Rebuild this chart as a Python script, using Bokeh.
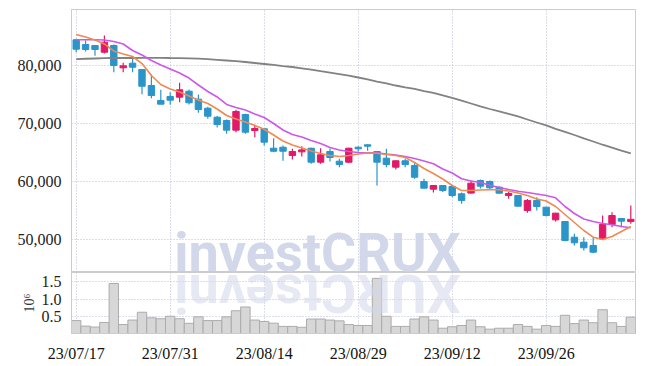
import math
from bokeh.plotting import figure
from bokeh.layouts import column
from bokeh.models import (ColumnDataSource, Range1d, FixedTicker, NumeralTickFormatter, Label)
from bokeh.embed import file_html
from bokeh.resources import INLINE

dates = ["23/07/17", "23/07/18", "23/07/19", "23/07/20", "23/07/21",
         "23/07/24", "23/07/25", "23/07/26", "23/07/27", "23/07/28",
         "23/07/31", "23/08/01", "23/08/02", "23/08/03", "23/08/04",
         "23/08/07", "23/08/08", "23/08/09", "23/08/10", "23/08/11",
         "23/08/14", "23/08/16", "23/08/17", "23/08/18",
         "23/08/21", "23/08/22", "23/08/23", "23/08/24", "23/08/25",
         "23/08/28", "23/08/29", "23/08/30", "23/08/31", "23/09/01",
         "23/09/04", "23/09/05", "23/09/06", "23/09/07", "23/09/08",
         "23/09/11", "23/09/12", "23/09/13", "23/09/14", "23/09/15",
         "23/09/18", "23/09/19", "23/09/20", "23/09/21", "23/09/22",
         "23/09/25", "23/09/26", "23/09/27",
         "23/10/04", "23/10/05", "23/10/06",
         "23/10/10", "23/10/11", "23/10/12", "23/10/13", "23/10/16"]

opens = [84430, 83620, 83450, 82290, 83450, 79600, 80400, 79310, 76550, 73970,
         74660, 74540, 75570, 74190, 72640, 71090, 70520, 68850, 71550, 68790,
         69090, 65740, 65910, 64480, 65110, 65740, 63330, 65170, 63500, 63330,
         65910, 66330, 65170, 64020, 62470, 63570, 62760, 60000, 58680, 59310,
         59140, 57880, 58000, 60170, 60000, 59020, 57580, 57590, 55000, 56730,
         55580, 53390, 53100, 50400, 49540, 48970, 50120, 52590, 53620, 53100]
highs = [84600, 84310, 83500, 85170, 83600, 80460, 81330, 79400, 78450, 75810,
         75400, 77020, 75860, 75000, 72900, 71300, 70700, 72360, 71700, 69780,
         69200, 67470, 66210, 65640, 66090, 65800, 65740, 65690, 63910, 65800,
         66090, 66400, 65200, 65640, 63600, 63910, 63160, 60460, 59400, 59400,
         59300, 58100, 60170, 60340, 60170, 59200, 58170, 57600, 57000, 57300,
         55600, 54600, 53200, 50980, 50400, 50400, 54140, 54710, 53650, 55860]
lows = [82300, 82410, 81700, 82070, 78850, 78850, 78850, 75050, 74370, 73300,
        73230, 73670, 73280, 71840, 70800, 69300, 68230, 68500, 68230, 67640,
        66210, 65050, 63570, 63790, 64310, 63050, 63050, 63450, 62470, 63200,
        65170, 65290, 59310, 62470, 62070, 62470, 60460, 58800, 58110, 58170,
        57300, 56160, 57940, 58800, 58680, 57900, 57010, 55700, 54600, 55000,
        53970, 53100, 49700, 48970, 48110, 47640, 50100, 52120, 52120, 52700]
closes = [82810, 82760, 82760, 84020, 80000, 79940, 79700, 76430, 74830, 73330,
          74020, 75810, 73570, 72410, 71260, 69830, 68850, 72070, 68500, 69130,
          66780, 65220, 65220, 65170, 65450, 63330, 64600, 64140, 62930, 65740,
          65640, 66090, 63330, 62930, 63570, 62930, 60740, 58850, 59310, 58450,
          57590, 56730, 59710, 59190, 58910, 57990, 57930, 55750, 56730, 55690,
          54140, 54540, 49830, 49430, 48570, 47810, 52590, 54140, 53160, 53480]

ma_short = [85350, 84910, 84400, 83710, 82500, 81980, 81550, 80340, 78280, 76720,
            75950, 75430, 74740, 74050, 73450, 72500, 71380, 70780, 70260, 69660,
            69000, 68020, 66980, 66290, 65780, 65260, 64830, 64480, 64310, 64480,
            64740, 64910, 64880, 64660, 64480, 64140, 63280, 62240, 61380, 60430,
            59310, 58450, 58450, 58530, 58570, 58570, 58360, 58020, 57590, 56980,
            56640, 55690, 54310, 52930, 51550, 50400, 50000, 50520, 51380, 52240]
ma_mid = [84430, 84430, 84430, 84400, 84140, 83710, 82590, 81810, 80860, 80090,
          79400, 78710, 77840, 76640, 75520, 74570, 73280, 72760, 72330, 71640,
          71040, 70000, 68880, 68100, 67670, 67070, 66550, 65860, 65430, 65170,
          65000, 64950, 64950, 64740, 64570, 64310, 63970, 63540, 63050, 62160,
          61470, 60470, 60090, 59830, 59370, 58970, 58620, 58330, 58100, 57850,
          57590, 57190, 55690, 54480, 53530, 53100, 52760, 52530, 52240, 52020]
ma_long = [81090, 81160, 81210, 81260, 81290, 81290, 81290, 81310, 81310, 81310,
           81290, 81280, 81240, 81170, 81100, 80980, 80860, 80740, 80600, 80430,
           80260, 80090, 79910, 79740, 79520, 79280, 79030, 78790, 78530, 78240,
           77930, 77590, 77240, 76900, 76550, 76240, 75950, 75600, 75260, 74830,
           74400, 73930, 73450, 72970, 72500, 72070, 71640, 71210, 70690, 70170,
           69660, 69090, 68570, 68020, 67450, 66900, 66340, 65830, 65310, 64830]

volume_m = [0.375, 0.214, 0.188, 0.32, 1.45, 0.26, 0.39, 0.617, 0.456, 0.429,
            0.50, 0.429, 0.295, 0.483, 0.375, 0.375, 0.483, 0.66, 0.77, 0.39,
            0.35, 0.30, 0.206, 0.206, 0.18, 0.42, 0.42, 0.39, 0.367, 0.26,
            0.233, 0.233, 1.60, 0.50, 0.206, 0.206, 0.42, 0.483, 0.39, 0.153,
            0.196, 0.233, 0.39, 0.196, 0.126, 0.153, 0.153, 0.26, 0.206, 0.126,
            0.233, 0.206, 0.528, 0.287, 0.39, 0.313, 0.69, 0.313, 0.206, 0.474]

price_ticks = [50000, 60000, 70000, 80000]
volume_ticks = [0.5, 1.0, 1.5]
date_tick_idx = [0, 10, 20, 30, 40, 50]

UP = "#e01a66"
DOWN = "#2b95c9"
GRID = "#b8bcd6"
FRAME = "#cccccc"
LABEL_FONT = "Liberation Sans Narrow"
WM = "#d2d7ea"

n = len(dates)
xs = list(range(n))
src = ColumnDataSource(dict(
    x=xs, open=opens, high=highs, low=lows, close=closes,
    top=[max(o, c) for o, c in zip(opens, closes)],
    bottom=[min(o, c) for o, c in zip(opens, closes)],
    color=[UP if c >= o else DOWN for o, c in zip(opens, closes)],
    ma_s=ma_short, ma_m=ma_mid, ma_l=ma_long, vol=volume_m,
))

xr = Range1d(-0.5, n - 0.5)

p = figure(width=638, height=272, x_range=xr, y_range=Range1d(44310, 89655),
           output_backend="svg", toolbar_location=None, x_axis_location=None,
           min_border_left=71, min_border_right=3, min_border_top=9, min_border_bottom=0)
p.outline_line_color = FRAME
p.background_fill_color = "white"

for g, t in ((p.xgrid, date_tick_idx), (p.ygrid, price_ticks)):
    g.ticker = FixedTicker(ticks=t)
    g.grid_line_color = GRID
    g.grid_line_dash = "1 2"
    g.grid_line_width = 1

ax = p.yaxis[0]
ax.ticker = FixedTicker(ticks=price_ticks)
ax.formatter = NumeralTickFormatter(format="0,0")
ax.axis_line_color = FRAME
ax.major_tick_line_color = None
ax.minor_tick_line_color = None
ax.major_label_standoff = 4
ax.major_label_text_font = LABEL_FONT
ax.major_label_text_font_size = "16px"
ax.major_label_text_color = "#222222"

wm = Label(x=10.43, y=47750, text="investCRUX", text_font="Roboto", text_font_style="bold",
           text_font_size="54px", text_color=WM, text_align="left", text_baseline="alphabetic")
p.add_layout(wm)

p.segment(x0="x", y0="low", x1="x", y1="high", color="color", line_width=1.2, source=src)
p.vbar(x="x", width=0.68, top="top", bottom="bottom", fill_color="color", line_color="color",
       line_width=1, source=src)
p.line("x", "ma_l", source=src, line_color="#828282", line_width=1.8)
p.line("x", "ma_m", source=src, line_color="#cc58ea", line_width=1.6)
p.line("x", "ma_s", source=src, line_color="#ee8a52", line_width=1.6)

v = figure(width=638, height=92, x_range=xr, y_range=Range1d(0, 1.77),
           output_backend="svg", toolbar_location=None,
           min_border_left=71, min_border_right=3, min_border_top=0, min_border_bottom=26)
v.outline_line_color = FRAME
for g, t in ((v.xgrid, date_tick_idx), (v.ygrid, volume_ticks)):
    g.ticker = FixedTicker(ticks=t)
    g.grid_line_color = GRID
    g.grid_line_dash = "1 2"
    g.grid_line_width = 1

v.vbar(x="x", width=1.0, top="vol", bottom=0, fill_color="#d7d7d7", line_color="#acacac",
       line_width=1, source=src)

refl = Label(x=10.43, y=1.15, text="investCRUX"[::-1], text_font="Roboto", text_font_style="bold",
             text_font_size="54px", text_color=WM, text_alpha=0.55, text_align="right",
             text_baseline="alphabetic", angle=math.pi)
v.add_layout(refl)

vy = v.yaxis[0]
vy.ticker = FixedTicker(ticks=volume_ticks)
vy.formatter = NumeralTickFormatter(format="0.0")
vy.axis_line_color = FRAME
vy.major_tick_line_color = None
vy.minor_tick_line_color = None
vy.major_label_standoff = 4
vy.major_label_text_font = LABEL_FONT
vy.major_label_text_font_size = "16px"
vy.major_label_text_color = "#222222"
vy.axis_label = "10\u2076"
vy.axis_label_text_font = "Liberation Serif"
vy.axis_label_text_font_style = "normal"
vy.axis_label_text_font_size = "14px"
vy.axis_label_text_color = "#333333"
vy.axis_label_standoff = 2

vx = v.xaxis[0]
vx.ticker = FixedTicker(ticks=date_tick_idx)
vx.major_label_overrides = {i: dates[i] for i in date_tick_idx}
vx.axis_line_color = FRAME
vx.major_tick_line_color = None
vx.minor_tick_line_color = None
vx.major_label_standoff = 5
vx.major_label_text_font = LABEL_FONT
vx.major_label_text_font_size = "16px"
vx.major_label_text_color = "#111111"

layout = column(p, v, spacing=0)
open("out.html", "w").write(file_html(layout, INLINE))
